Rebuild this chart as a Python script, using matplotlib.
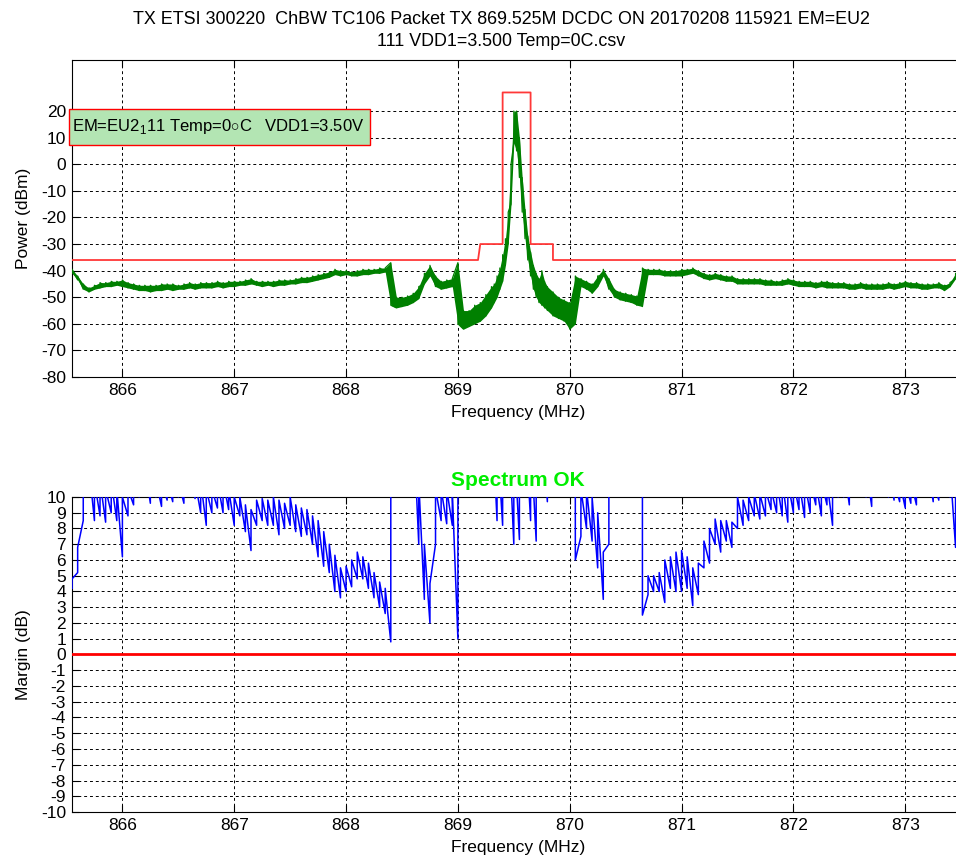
import numpy as np
import matplotlib
matplotlib.use('Agg')
from matplotlib import pyplot as plt
from matplotlib.patches import Rectangle

plt.rcParams['font.family'] = ['Liberation Sans', 'DejaVu Sans']
plt.rcParams['mathtext.fontset'] = 'custom'
plt.rcParams['mathtext.rm'] = 'Liberation Sans'
plt.rcParams['font.size'] = 12.5
plt.rcParams['axes.unicode_minus'] = False

title_line1 = 'TX ETSI 300220  ChBW TC106 Packet TX 869.525M DCDC ON 20170208 115921 EM=EU2'
title_line2 = '111 VDD1=3.500 Temp=0C.csv'
legend_txt = r'EM=EU2$_1$11 Temp=0$\circ$C   VDD1=3.50V'

# spectrum trace, two readings per 50 kHz bin (in trace order), dBm
bin_left = np.round(np.arange(865.55, 869.301, 0.05), 3)
spec_left_a = [-41, -43.5, -47, -48, -47, -46.5, -46, -46, -45.5, -46,
               -46.5, -47, -47.5, -47.5, -48, -47.5, -47.5, -47, -47.5, -47,
               -47, -46.5, -47, -46.5, -46.5, -46.5, -46, -46.5, -46, -46,
               -45.5, -45.5, -45, -45.5, -46, -45.5, -46, -45.5, -45.5, -45,
               -45, -44.5, -44.5, -44, -43.5, -43, -42.5, -41.5, -42, -41.5,
               -42, -42, -41.5, -41.5, -41, -41, -40.5, -37, -54, -53.5,
               -53, -52, -50.5, -45, -42, -46, -47, -46.5, -46, -37,
               -62, -61, -60, -59, -57, -54]
spec_left_b = [-39.5, -42, -45, -46.5, -45.5, -44.5, -44.5, -44, -44, -43.5,
               -44.5, -45, -45.5, -45.5, -45.5, -45.5, -45, -45, -45, -45.5,
               -45, -44.5, -45, -44.5, -44.5, -44.5, -44, -44.5, -44, -44,
               -44, -43.5, -43, -44, -44, -44, -44, -43.5, -43.5, -43.5,
               -43, -42.5, -42.5, -42, -41.5, -41, -40.5, -39.5, -40, -40,
               -40.5, -40, -39.5, -39.5, -39.5, -39, -39, -53, -50, -50,
               -49.5, -48.5, -46, -41, -38, -42, -44, -43.5, -43, -60,
               -55, -55, -53, -52, -49, -46]

# main lobe, 25 kHz bins
bin_peak = np.round(np.arange(869.325, 869.801, 0.025), 3)
spec_peak_a = [-52, -50, -47, -44, -38, -30, -15, 8, 5, -5,
               -18, -28, -36, -42, -47, -50, -52, -53, -54, -55]
spec_peak_b = [-45, -42, -39, -34, -28, -18, 0, 20, 20, 10,
               -5, -17, -27, -33, -38, -41, -43, -40, -44, -46]

bin_right = np.round(np.arange(869.85, 873.501, 0.05), 3)
spec_right_a = [-57, -58, -59, -62, -60, -46, -47, -48.5, -46, -42,
                -47, -50, -51, -51.5, -52, -53, -53.5, -41.5, -41.5, -41.5,
                -42, -42, -42, -42, -41.5, -41, -42, -43, -43.5, -43,
                -43.5, -44, -44, -45, -45, -45, -45, -45, -45.5, -45.5,
                -45.5, -45.5, -45, -45.5, -46, -46, -46, -46.5, -46, -46.5,
                -46.5, -46.5, -46.5, -47, -47, -46.5, -47, -47, -47, -47,
                -46.5, -47, -46.5, -46, -46.5, -46.5, -47, -47, -46.5, -46.5,
                -47.5, -46, -43, -42]
spec_right_b = [-48, -50, -51, -52, -42, -43, -44, -45, -42, -39.5,
                -43, -47, -48, -48.5, -49, -49.5, -39, -39.5, -39.5, -39.5,
                -40, -40, -40, -39.5, -39.5, -39, -40, -41, -41.5, -41,
                -41.5, -42, -42, -43, -43, -43, -43, -43, -43.5, -43.5,
                -44, -43.5, -43, -43.5, -44, -44, -44, -44.5, -44, -44,
                -44.5, -44.5, -44.5, -45, -45, -44.5, -45, -45, -45, -45,
                -44.5, -45, -44.5, -44, -44.5, -44.5, -45, -45, -45, -44.5,
                -45.5, -44.5, -41, -40]

# ETSI limit mask, dBm
mask_freq = [865.5, 869.18, 869.2, 869.4, 869.4, 869.65, 869.65, 869.85, 869.85, 873.6]
mask_dbm = [-36, -36, -30, -30, 27, 27, -30, -30, -36, -36]

# margin to mask, two readings per 50 kHz bin, dB (values above 10 are off scale)
bin_margin = np.round(np.arange(865.55, 873.501, 0.05), 3)
marg_a = [4.2, 5.2, 8.5, 10.5, 8.5, 8.8, 8.4, 9, 8.5, 6.2,
          8.8, 9.5, 10, 10.5, 9.6, 10, 9.4, 9.8, 9.7, 10,
          9.6, 10.2, 9.9, 9, 8.2, 9, 9.3, 9, 9.2, 8.2,
          8.8, 7.8, 6.6, 8.2, 8.5, 8.2, 8.2, 7.6, 8, 8.2,
          7.8, 7.5, 7.6, 7, 6.2, 5.6, 5.2, 4, 3.6, 4,
          4.3, 4.8, 4.8, 4.2, 3.6, 3, 2.6, 0.8, 14, 14,
          14, 13, 7, 3.5, 2, 7, 8.5, 8.3, 8.2, 1.0,
          14, 14, 14, 14, 14, 14, 8.5, 8.2, 13, 7,
          7.3, 13, 8.5, 7.2, 13, 9.7, 14, 14, 14, 14,
          14, 7.5, 8, 7.2, 5.5, 3.5, 7, 13, 13, 13,
          13, 13, 14, 3.8, 4, 4, 3.3, 4.2, 4, 4,
          4.2, 3.1, 3.8, 5.5, 5.8, 7, 6.5, 7.2, 6.8, 8,
          8.2, 8.5, 8.8, 8.6, 8.8, 9.2, 9, 8.8, 8.4, 9,
          9.2, 8.7, 9, 9.5, 8.8, 9.5, 8.2, 10, 10, 9.5,
          10.2, 10.1, 10, 9.4, 10.2, 10.1, 10, 9.8, 9.7, 9.3,
          9.6, 9.5, 10.2, 10.2, 9.7, 9.8, 10.2, 10, 6.8, 8]
marg_b = [4.8, 6.8, 10.5, 12, 11, 11, 10.5, 11, 10.5, 10,
          10.5, 11, 11, 12, 11, 11, 11, 11, 11, 11,
          11, 11, 11, 11, 10.5, 10.5, 11, 11, 10.5, 10,
          10, 9.5, 9.2, 9.8, 9.9, 9.8, 10, 9.8, 9.6, 10,
          9.5, 9.3, 9.2, 8.8, 8.5, 7.8, 7, 6.3, 5.5, 5.6,
          6, 6.5, 6.2, 5.8, 5.2, 4.6, 4.2, 15, 16, 16,
          16, 15, 11, 7, 4.5, 10.5, 10.5, 10.5, 10.3, 15,
          16, 16, 16, 16, 16, 16, 14, 14, 15, 14,
          14, 15, 14, 14, 15, 14, 16, 16, 16, 16,
          6, 10.5, 10.5, 10, 9, 6.5, 10.5, 15, 15, 15,
          15, 15, 2.5, 5, 5, 5.2, 6, 6.2, 6.5, 6.6,
          6.2, 5.5, 5.8, 7.2, 8, 8.6, 8.5, 8.5, 8.4, 10,
          9.8, 10, 10.2, 10.2, 10.5, 10.5, 11, 11, 11, 11,
          11, 11, 11, 11, 11, 11, 11, 12, 12, 11,
          12, 12, 12, 11, 12, 12, 12, 11, 11, 11,
          11, 11, 12, 12, 11, 11, 12, 12, 11, 11]

spec_f = np.concatenate([bin_left, bin_peak, bin_right])
spec_a = np.concatenate([spec_left_a, spec_peak_a, spec_right_a])
spec_b = np.concatenate([spec_left_b, spec_peak_b, spec_right_b])
spec_x = np.repeat(spec_f, 2)
spec_y = np.column_stack([spec_a, spec_b]).ravel()

marg_x = np.repeat(bin_margin, 2)
marg_y = np.column_stack([marg_a, marg_b]).ravel()

fig = plt.figure(figsize=(9.56, 8.61), dpi=100)
ax1 = fig.add_axes([0.0748, 0.5621, 0.9341, 0.3682])
ax2 = fig.add_axes([0.0748, 0.0569, 0.9341, 0.3659])

grid_kw = dict(color='k', linestyle=(0, (3, 3)), linewidth=0.7)

green = '#008000'
ax1.fill_between(spec_f, np.minimum(spec_a, spec_b), np.maximum(spec_a, spec_b),
                 color=green, lw=0, zorder=3)
ax1.plot(spec_x, spec_y, color=green, lw=0.9, zorder=3)
ax1.plot(mask_freq, mask_dbm, color='#ff3838', lw=1.3, zorder=3)
ax1.set_xlim(865.545, 873.53)
ax1.set_ylim(-80, 39.2)
ax1.set_yticks(np.arange(-80, 21, 10))
ax1.set_xticks(np.arange(866, 874))
ax1.grid(True, **grid_kw)
ax1.set_xlabel('Frequency (MHz)', labelpad=5)
ax1.set_ylabel('Power (dBm)', labelpad=7)
# legend-like annotation box
ax1.add_patch(Rectangle((-0.003, 0.732), 0.337, 0.114, transform=ax1.transAxes,
                        fc='#b3e5b3', ec='red', lw=1, clip_on=False, zorder=4))
ax1.text(0.001, 0.789, legend_txt, transform=ax1.transAxes, va='center', ha='left',
         fontsize=12, zorder=5)

ax2.plot(marg_x, marg_y, color='#0000ff', lw=1.1, zorder=3)
ax2.axhline(0, color='red', lw=2, zorder=4)
ax2.set_xlim(865.545, 873.53)
ax2.set_ylim(-10, 10)
ax2.set_yticks(np.arange(-10, 11, 1))
ax2.set_xticks(np.arange(866, 874))
ax2.grid(True, **grid_kw)
ax2.set_xlabel('Frequency (MHz)', labelpad=5)
ax2.set_ylabel('Margin (dB)', labelpad=7)
ax2.set_title('Spectrum OK', color='#00ee00', fontweight='bold', pad=8)

for ax in (ax1, ax2):
    ax.tick_params(direction='in', top=True, right=True, length=5, pad=4)

fig.text(0.524, 1 - 19 / 861, title_line1, ha='center', va='center', fontsize=12.9)
fig.text(0.524, 1 - 42 / 861, title_line2, ha='center', va='center', fontsize=12.9)

fig.savefig('out.png', dpi=100)
